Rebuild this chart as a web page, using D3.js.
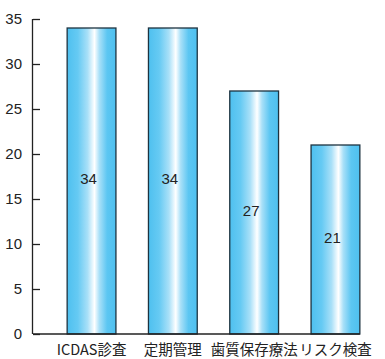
<!DOCTYPE html>
<html>
<head>
<meta charset="utf-8">
<script src="https://cdn.jsdelivr.net/npm/d3@7"></script>
<style>
  html, body { margin: 0; padding: 0; background: #fff; }
  svg { display: block; }
</style>
</head>
<body>
<svg id="chart" width="385" height="359"></svg>
<script>
const categories = ["ICDAS診査", "定期管理", "歯質保存療法", "リスク検査"];
const values = [34, 34, 27, 21];
const yTicks = [0, 5, 10, 15, 20, 25, 30, 35];

const W = 385, H = 359;
const svg = d3.select("#chart");

const x = d3.scaleBand()
  .domain(categories)
  .range([33, 394])
  .paddingInner(0.4)
  .paddingOuter(0.42);

const y = d3.scaleLinear().domain([0, 35]).range([334, 19]);

// horizontal sheen on the bars
const grad = svg.append("defs").append("linearGradient")
  .attr("id", "barGrad").attr("x1", "0%").attr("x2", "100%").attr("y1", "0%").attr("y2", "0%");
[
  [0, "#4ec0ef"], [0.22, "#66caf3"], [0.42, "#a9e0f8"], [0.56, "#ffffff"],
  [0.66, "#a9e0f8"], [0.82, "#5cc6f2"], [1, "#4ec0ef"]
].forEach(([o, c]) => grad.append("stop").attr("offset", o).attr("stop-color", c));

// bars
svg.append("g").selectAll("rect")
  .data(values)
  .join("rect")
  .attr("x", (d, i) => x(categories[i]))
  .attr("y", d => y(d))
  .attr("width", x.bandwidth())
  .attr("height", d => y(0) - y(d))
  .attr("fill", "url(#barGrad)")
  .attr("stroke", "#1d3340")
  .attr("stroke-width", 1.3);

// baseline from the axis to the last bar
const lastRight = x(categories[categories.length - 1]) + x.bandwidth();
svg.append("line")
  .attr("x1", 33).attr("x2", lastRight)
  .attr("y1", y(0)).attr("y2", y(0))
  .attr("stroke", "#222").attr("stroke-width", 1.3);

// y axis with inward ticks
const yAxis = d3.axisLeft(y).tickValues(yTicks).tickSize(-7).tickPadding(11).tickFormat(d3.format("d"));
const ga = svg.append("g").attr("transform", "translate(33,0)").call(yAxis);
ga.select(".domain").attr("stroke", "#222").attr("stroke-width", 1.3).attr("d", `M-0.5,${y(35)}V${y(0)}`);
ga.selectAll(".tick line").attr("stroke", "#222").attr("stroke-width", 1.3);
ga.selectAll(".tick text")
  .attr("fill", "#222")
  .style("font-family", "'Liberation Sans', Arial, sans-serif")
  .style("font-size", "15px");

// value labels inside the bars
svg.append("g").selectAll("text")
  .data(values)
  .join("text")
  .attr("x", (d, i) => x(categories[i]) + x.bandwidth() / 2 - 3)
  .attr("y", d => (y(0) + y(d)) / 2 - 2)
  .attr("dy", "0.35em")
  .attr("text-anchor", "middle")
  .attr("fill", "#222")
  .style("font-family", "'Liberation Sans', Arial, sans-serif")
  .style("font-size", "15px")
  .text(d => d);

// category labels
svg.append("g").selectAll("text")
  .data(categories)
  .join("text")
  .attr("x", d => x(d) + x.bandwidth() / 2)
  .attr("y", 350)
  .attr("dy", "0.35em")
  .attr("text-anchor", "middle")
  .attr("fill", "#222")
  .style("font-family", "'Noto Sans CJK JP', sans-serif")
  .style("font-size", "14.5px")
  .text(d => d);
</script>
</body>
</html>
